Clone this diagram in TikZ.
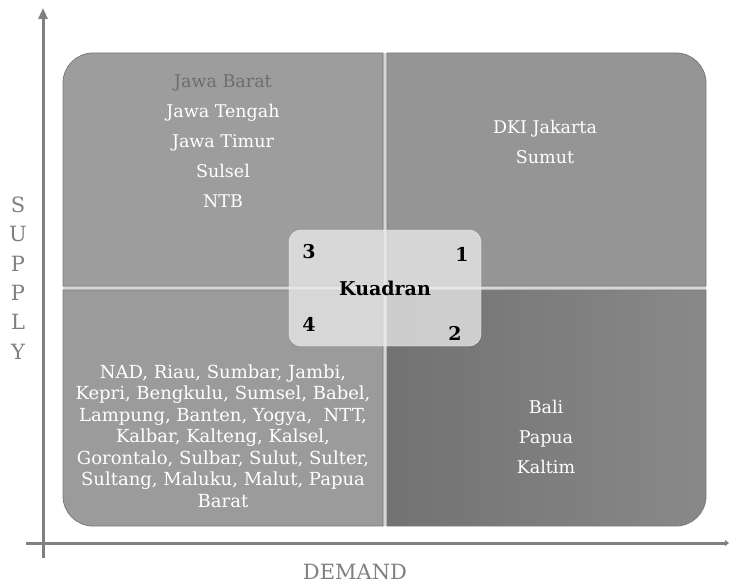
\documentclass[tikz,border=0pt]{standalone}
\usepackage{fontspec}
\setmainfont{DejaVu Serif}
\usetikzlibrary{arrows.meta}
\definecolor{axisgray}{HTML}{808080}
\definecolor{quadA}{HTML}{9D9D9D}
\definecolor{quadB}{HTML}{959595}
\definecolor{quadC}{HTML}{9B9B9B}
\definecolor{quadDl}{HTML}{727272}
\definecolor{quadDr}{HTML}{898989}
\definecolor{edgegray}{HTML}{7A7A7A}
\definecolor{gapgray}{HTML}{D6D6D6}
\begin{document}
\begin{tikzpicture}[x=1pt,y=-1pt,
    quad/.style={draw=edgegray, line width=0.8pt},
    region/.style={text=white, align=center, font=\fontsize{17.5}{30}\selectfont},
    axislabel/.style={text=axisgray, align=center, font=\fontsize{21}{29.4}\selectfont},
    num/.style={font=\bfseries\fontsize{19}{20}\selectfont}]
        \useasboundingbox (0,0) rectangle (729,586);

        % axes
        \coordinate (ybot) at (43,558);
        \coordinate (ytop) at (43,8);
        \coordinate (xleft) at (26,543);
        \coordinate (xright) at (729,543);
        \draw[axisgray, line width=3pt, -{Triangle[length=11pt,width=9pt]}] (ybot) -- (ytop);
        \draw[axisgray, line width=3pt, -{Triangle[length=4pt,width=6pt]}] (xleft) -- (xright);

        % quadrants
        \fill[gapgray] (383,53) rectangle (387,526);
        \fill[gapgray] (63,286) rectangle (706,290);
        \fill[quadA] (383,286) -- (63,286) [rounded corners=30] -- (63,53) [sharp corners] -- (383,53) -- cycle;
        \fill[quadB] (387,286) -- (387,53) [rounded corners=30] -- (706,53) [sharp corners] -- (706,286) -- cycle;
        \fill[quadC] (383,290) -- (63,290) [rounded corners=30] -- (63,526) [sharp corners] -- (383,526) -- cycle;
        \shade[left color=quadDl, right color=quadDr] (387,290) -- (387,526) [rounded corners=30] -- (706,526) [sharp corners] -- (706,290) -- cycle;
        \draw[quad] (383,286) -- (63,286) [rounded corners=30] -- (63,53) [sharp corners] -- (383,53) -- cycle;
        \draw[quad] (387,286) -- (387,53) [rounded corners=30] -- (706,53) [sharp corners] -- (706,286) -- cycle;
        \draw[quad] (383,290) -- (63,290) [rounded corners=30] -- (63,526) [sharp corners] -- (383,526) -- cycle;
        \draw[quad] (387,290) -- (387,526) [rounded corners=30] -- (706,526) [sharp corners] -- (706,290) -- cycle;

        % quadrant texts
        \node[region] (kiriatas) at (223,141) {\textcolor{axisgray!85!black}{Jawa Barat}\\Jawa Tengah\\Jawa Timur\\Sulsel\\NTB};
        \node[region] (kananatas) at (545,142) {DKI Jakarta\\Sumut};
        \node[region] (kananbawah) at (546,437) {Bali\\Papua\\Kaltim};
        \node[region, font=\fontsize{18}{21.5}\selectfont] (kiribawah) at (223,436)
            {NAD, Riau, Sumbar, Jambi,\\Kepri, Bengkulu, Sumsel, Babel,\\Lampung, Banten, Yogya,~ NTT,\\Kalbar, Kalteng, Kalsel,\\Gorontalo, Sulbar, Sulut, Sulter,\\Sultang, Maluku, Malut, Papua\\Barat};

        % center box
        \node[fill=white!85!gray, fill opacity=0.75, text opacity=1, draw=white!90!gray, rounded corners=12pt,
              minimum width=192pt, minimum height=116pt, num] (kuadran) at (385,288) {Kuadran};
        \node[num] (q3) at (309,252) {3};
        \node[num] (q1) at (462,254) {1};
        \node[num] (q4) at (309,324) {4};
        \node[num] (q2) at (455,333) {2};

        % axis labels
        \node[axislabel] (supply) at (18,278) {S\\U\\P\\P\\L\\Y};
        \node[axislabel] (demand) at (355,572) {DEMAND};
\end{tikzpicture}
\end{document}
